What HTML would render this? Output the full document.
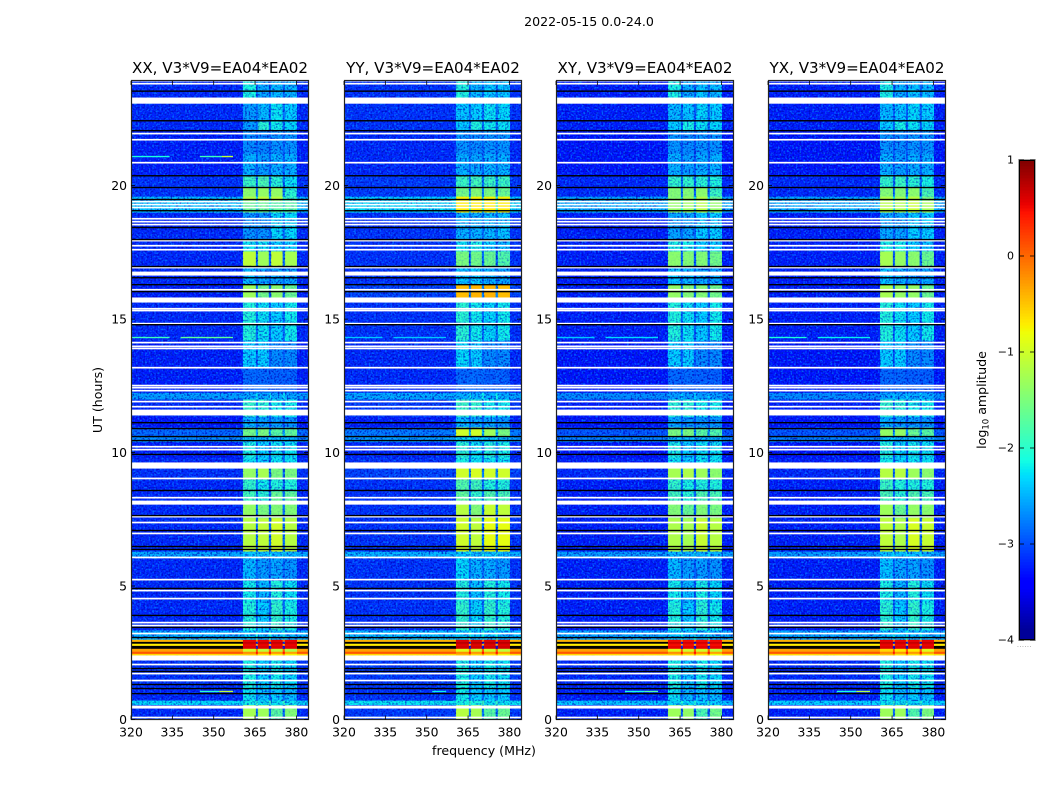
<!DOCTYPE html>
<html>
<head>
<meta charset="utf-8">
<title>2022-05-15 amplitude waterfall</title>
<style>
html,body{margin:0;padding:0;background:#fff;width:1050px;height:800px;overflow:hidden}
svg{display:block}
text{font-family:"DejaVu Sans","Liberation Sans",sans-serif;fill:#000}
</style>
</head>
<body>
<svg id="figure" xmlns="http://www.w3.org/2000/svg" width="1050" height="800" viewBox="0 0 1050 800">
  <defs id="figure-defs">
    <filter id="speckle-light" x="0" y="0" width="1" height="1" color-interpolation-filters="sRGB">
      <feTurbulence type="fractalNoise" baseFrequency="0.55" numOctaves="1" seed="3"/>
      <feColorMatrix values="0 0 0 0 0  0 0 0 0 0.52  0 0 0 0 1  4 0 0 0 -1.9"/>
    </filter>
    <filter id="speckle-dark" x="0" y="0" width="1" height="1" color-interpolation-filters="sRGB">
      <feTurbulence type="fractalNoise" baseFrequency="0.55" numOctaves="1" seed="11"/>
      <feColorMatrix values="0 0 0 0 0  0 0 0 0 0  0 0 0 0 0.72  4 0 0 0 -1.9"/>
    </filter>
  </defs>
  <text x="589" y="26" font-size="12.6" text-anchor="middle">2022-05-15 0.0-24.0</text>
  <text x="484" y="755" font-size="12.6" text-anchor="middle">frequency (MHz)</text>
  <text x="102" y="400" font-size="12.6" text-anchor="middle" transform="rotate(-90 102 400)">UT (hours)</text>
  <text x="986" y="400" font-size="12.6" text-anchor="middle" transform="rotate(-90 986 400)">log<tspan font-size="8.5" dy="2.5">10</tspan><tspan dy="-2.5"> amplitude</tspan></text>
  <text x="1017" y="647" font-size="6" letter-spacing="0.6" style="fill:#777">......</text>
  <g id="panels"></g>
  <g id="colorbar"></g>
</svg>
<script>
/* Chart data */
const panelTitles = ["XX, V3*V9=EA04*EA02", "YY, V3*V9=EA04*EA02", "XY, V3*V9=EA04*EA02", "YX, V3*V9=EA04*EA02"];
const freqTicks = [320, 335, 350, 365, 380];
const utTicks = [0, 5, 10, 15, 20];
const colorTicks = [1, 0, -1, -2, -3, -4];
const colorTickLabels = ["1", "0", "\u22121", "\u22122", "\u22123", "\u22124"];

/* frequency channels (MHz) and which level column each one reads: 0 = out of band, 1-4 = subbands */
const freqEdges = [320, 360.6, 365.3, 366, 370, 370.8, 375, 375.8, 380.2, 384.2];
const channelBand = [0, 1, 0, 2, 0, 3, 0, 4, 0];
const channelLift = [0, 0, 0.35, 0, 0.35, 0, 0.35, 0, 0];

/* UT hour boundaries of the time rows */
const rowEdges = [0,.55,.72,1.2,2.4,2.47,2.55,2.66,2.77,2.85,2.92,3,3.35,4.4,5.2,6.05,6.3,7.55,8.1,8.55,9,9.45,9.8,10.4,10.6,10.95,11.35,12,12.25,13.2,14.2,15.8,16.3,17,17.55,18,19,19.45,19.6,19.95,20.4,21.2,22.05,22.4,23.2,23.9];

/* log10 amplitude per row: [out of band, band A, band B, band C, band D] */
const levelsXX = [
[-3.2,-1.25,-1.3,-1.7,-1.45],[-2.25,-2.15,-2.2,-2.2,-2.2],[-3.2,-2.2,-2.35,-2.3,-2.4],[-3.15,-2.1,-2.3,-2.15,-2.25],
[-0.6,-0.55,-0.7,-0.7,-0.75],[0.1,-0.2,-0.25,-0.25,-0.3],[-0.3,-1,-1.1,-1.1,-1.2],[-4,0.6,0.6,0.6,0.6],
[-0.7,0.55,0.55,0.55,0.55],[-4,0.7,0.7,0.7,0.7],[-0.4,0.55,0.55,0.55,0.55],
[-2.45,-2.3,-2.4,-2.4,-2.4],[-3.2,-2.05,-2.3,-1.95,-2.1],[-3.2,-2.15,-2.4,-2.05,-2.2],[-3.2,-2.4,-2.55,-2.5,-2.6],
[-2.5,-2.35,-2.4,-2.4,-2.4],[-3.2,-1.15,-1.1,-1,-1.15],[-3.2,-1.35,-1.5,-1.45,-1.45],[-3.2,-1.85,-2,-1.6,-1.65],
[-3.2,-1.95,-2.15,-2.05,-2.05],[-3.15,-1.35,-1.25,-1.5,-1.5],[-3.2,-2.2,-2.3,-2.2,-2.2],[-3.25,-2.1,-2.3,-2.2,-2.2],
[-2.65,-2.3,-2.4,-2.4,-2.4],[-2.85,-1.55,-1.5,-1.7,-1.65],[-3.3,-2.45,-2.55,-2.55,-2.6],[-3.2,-1.95,-2,-2.15,-2.15],
[-2.55,-2.5,-2.5,-2.5,-2.5],[-3.25,-2.85,-2.85,-2.9,-2.9],[-3.25,-2.3,-2.3,-2.65,-2.65],[-3.2,-2.05,-2.2,-2.3,-2.15],
[-3.25,-1.3,-1.55,-1.4,-1.6],[-3.2,-2.4,-2.5,-2.5,-2.5],[-3.2,-1.1,-1.3,-1.1,-1.25],[-3.2,-2.2,-2.2,-2.3,-2.3],
[-3.2,-2.6,-2.6,-2.25,-2.25],[-2.35,-1.6,-1.6,-1.7,-1.7],[-2.4,-1.2,-1.1,-1.15,-1.9],[-3.15,-1.4,-1.35,-1.35,-2],
[-3.15,-1.9,-1.8,-2,-2.2],[-3.25,-2.45,-2.55,-2.45,-2.45],[-3.25,-2.65,-2.7,-2.6,-2.6],[-3.2,-2.55,-2,-2.15,-2.25],
[-3.2,-2.55,-2.4,-2.2,-2.3],[-3.2,-2.1,-2.5,-2.4,-2.4]];
const levelsYY = [
[-3.1,-1.15,-1.25,-1.7,-1.6],[-2.2,-2.1,-2.1,-2.2,-2.2],[-3.15,-2.15,-2.3,-2.3,-2.3],[-3.1,-2.1,-2.3,-2.15,-2.2],
[-0.6,-0.45,-0.6,-0.65,-0.75],[0.1,-0.2,-0.25,-0.25,-0.3],[-0.3,-0.9,-1,-1,-1.1],[-4,0.65,0.65,0.65,0.65],
[-0.7,0.6,0.6,0.6,0.6],[-4,0.75,0.75,0.75,0.75],[-0.4,0.6,0.6,0.6,0.6],
[-2.4,-2.3,-2.35,-2.35,-2.4],[-3.15,-1.95,-2.25,-1.95,-2.05],[-3.15,-2.05,-2.35,-2.05,-2.15],[-3.15,-2.25,-2.45,-2.45,-2.55],
[-2.45,-2.3,-2.4,-2.35,-2.4],[-3.15,-1,-1.1,-0.85,-0.85],[-3.15,-1.15,-1.45,-1.05,-1.1],[-3.15,-1.65,-1.95,-1.75,-1.8],
[-3.15,-1.75,-1.85,-2.05,-2.05],[-3.05,-1,-0.95,-1,-1],[-3.15,-2.1,-2.2,-2.2,-2.2],[-3.2,-2,-2.2,-2.05,-2.1],
[-2.55,-2.25,-2.35,-2.35,-2.35],[-2.75,-1,-1,-1.3,-1.5],[-3.25,-2.4,-2.5,-2.5,-2.6],[-3.1,-1.9,-1.95,-2.15,-2.15],
[-2.5,-2.45,-2.45,-2.45,-2.45],[-3.2,-2.85,-2.85,-2.9,-2.9],[-3.2,-2.25,-2.3,-2.65,-2.65],[-3.15,-2,-2.15,-2.25,-2.15],
[-3.05,-0.45,-0.4,-0.4,-0.45],[-3.15,-2.35,-2.3,-2.45,-2.5],[-3.15,-1.5,-1.55,-1.6,-1.75],[-3.15,-2.2,-2.1,-2.3,-2.4],
[-3.15,-2.45,-2.45,-2.4,-2.35],[-2.25,-0.7,-0.7,-0.7,-0.7],[-2.3,-0.75,-0.75,-0.75,-0.75],[-3.1,-1.55,-1.45,-1.5,-1.6],
[-3.1,-1.9,-1.85,-1.9,-1.9],[-3.2,-2.45,-2.5,-2.45,-2.45],[-3.2,-2.6,-2.65,-2.6,-2.6],[-3.15,-2.3,-2.05,-2.15,-2.2],
[-3.15,-2.35,-2.3,-2.2,-2.25],[-3.15,-2.05,-2.4,-2.3,-2.35]];
const levelsXY = [
[-3.25,-1.3,-1.35,-1.8,-1.55],[-2.35,-2.25,-2.25,-2.3,-2.3],[-3.25,-2.2,-2.4,-2.35,-2.4],[-3.2,-2.1,-2.35,-2.15,-2.25],
[-0.6,-0.55,-0.7,-0.7,-0.8],[0.1,-0.2,-0.25,-0.25,-0.3],[-0.3,-0.9,-1,-1,-1.1],[-4,0.55,0.55,0.55,0.55],
[-0.7,0.5,0.5,0.5,0.5],[-4,0.65,0.65,0.65,0.65],[-0.4,0.5,0.5,0.5,0.5],
[-2.5,-2.35,-2.4,-2.4,-2.45],[-3.25,-2.05,-2.3,-2,-2.15],[-3.25,-2.15,-2.4,-2.1,-2.25],[-3.25,-2.4,-2.55,-2.55,-2.6],
[-2.55,-2.4,-2.45,-2.45,-2.45],[-3.25,-1.2,-1.25,-1.05,-1.15],[-3.25,-1.45,-1.6,-1.45,-1.5],[-3.25,-1.85,-2,-1.75,-1.8],
[-3.25,-1.95,-2.1,-2.05,-2.05],[-3.2,-1.25,-1.2,-1.3,-1.4],[-3.25,-2.2,-2.3,-2.2,-2.2],[-3.3,-2.1,-2.3,-2.2,-2.2],
[-2.7,-2.35,-2.4,-2.4,-2.4],[-2.95,-1.5,-1.5,-1.7,-1.75],[-3.3,-2.5,-2.6,-2.6,-2.6],[-3.25,-2,-2,-2.15,-2.15],
[-2.65,-2.55,-2.55,-2.55,-2.55],[-3.3,-2.85,-2.85,-2.9,-2.9],[-3.3,-2.3,-2.3,-2.65,-2.65],[-3.25,-2.05,-2.2,-2.3,-2.15],
[-3.25,-1.35,-1.45,-1.45,-1.55],[-3.25,-2.35,-2.4,-2.5,-2.5],[-3.25,-1.4,-1.45,-1.45,-1.55],[-3.25,-2.1,-2.15,-2.3,-2.3],
[-3.25,-2.5,-2.5,-2.3,-2.3],[-2.45,-1.35,-1.3,-1.15,-1.35],[-2.5,-1.45,-1.35,-1.2,-1.6],[-3.2,-1.45,-1.45,-1.4,-1.9],
[-3.2,-1.95,-1.95,-2,-2.05],[-3.3,-2.45,-2.55,-2.45,-2.45],[-3.3,-2.6,-2.65,-2.6,-2.6],[-3.25,-2.3,-2.1,-2.2,-2.25],
[-3.25,-2.4,-2.35,-2.25,-2.3],[-3.25,-2.1,-2.45,-2.35,-2.4]];
const levelsYX = [
[-3.25,-1.3,-1.3,-1.75,-1.5],[-2.3,-2.2,-2.2,-2.25,-2.25],[-3.25,-2.2,-2.35,-2.3,-2.35],[-3.2,-2.1,-2.3,-2.15,-2.2],
[-0.6,-0.5,-0.65,-0.65,-0.75],[0.1,-0.2,-0.25,-0.25,-0.3],[-0.3,-0.6,-0.7,-0.7,-0.9],[-4,0.6,0.6,0.6,0.6],
[-0.7,0.55,0.55,0.55,0.55],[-4,0.7,0.7,0.7,0.7],[-0.4,0.55,0.55,0.55,0.55],
[-2.5,-2.35,-2.4,-2.4,-2.4],[-3.25,-2,-2.3,-1.95,-2.1],[-3.25,-2.1,-2.4,-2.05,-2.2],[-3.25,-2.35,-2.5,-2.5,-2.6],
[-2.55,-2.35,-2.4,-2.4,-2.45],[-3.25,-1.1,-1.2,-0.95,-1.05],[-3.25,-1.3,-1.6,-1.35,-1.4],[-3.25,-1.8,-2,-1.75,-1.8],
[-3.25,-1.9,-2.05,-2.05,-2.05],[-3.2,-1.15,-1.15,-1.3,-1.4],[-3.25,-2.15,-2.25,-2.2,-2.2],[-3.3,-2.05,-2.25,-2.15,-2.2],
[-2.7,-2.3,-2.4,-2.4,-2.4],[-2.95,-1.35,-1.35,-1.6,-1.7],[-3.3,-2.45,-2.55,-2.55,-2.6],[-3.25,-1.95,-2,-2.15,-2.15],
[-2.65,-2.5,-2.5,-2.5,-2.5],[-3.3,-2.85,-2.85,-2.9,-2.9],[-3.3,-2.3,-2.3,-2.65,-2.65],[-3.25,-2.05,-2.2,-2.3,-2.15],
[-3.25,-1.25,-1.35,-1.35,-1.6],[-3.25,-2.35,-2.45,-2.5,-2.5],[-3.25,-1.25,-1.35,-1.4,-1.6],[-3.25,-2.1,-2.15,-2.3,-2.35],
[-3.25,-2.5,-2.5,-2.3,-2.3],[-2.45,-1.15,-1.2,-1.05,-1.25],[-2.5,-1.2,-1.25,-1.15,-1.5],[-3.2,-1.45,-1.45,-1.4,-1.8],
[-3.2,-1.95,-1.9,-2,-2.1],[-3.3,-2.45,-2.55,-2.45,-2.45],[-3.3,-2.6,-2.65,-2.6,-2.6],[-3.25,-2.3,-2.1,-2.2,-2.25],
[-3.25,-2.4,-2.35,-2.25,-2.3],[-3.25,-2.1,-2.45,-2.35,-2.4]];

/* narrow interference traces per panel: [UT hour, start MHz, end MHz, log10 amplitude] */
const rfiXX = [[21.09,320,334,-2.1],[21.09,345,353,-1.9],[21.09,353,357,-1.1],[14.31,320,334,-1.9],[14.31,338,357,-1.7],[1.05,345,352,-2],[1.05,352,357,-1.1]];
const rfiYY = [[14.31,320,334,-2.4],[14.31,338,357,-2.4],[1.05,352,357,-2.2]];
const rfiXY = [[14.31,320,334,-2.4],[14.31,338,357,-2.3],[1.05,345,352,-2.1],[1.05,352,357,-1.8]];
const rfiYX = [[14.31,320,334,-2.1],[14.31,338,357,-2.2],[1.05,345,352,-2.1],[1.05,352,357,-1.2]];

/* flagged time ranges drawn white: [start hour, end hour] */
const flagBands = [[.41,.52],[2.21,2.4],[8.05,8.2],[9.4,9.63],[11.39,11.61],[15.62,15.81],[16.63,16.78],[23.07,23.3]];
/* thin flagged time samples (UT hour) */
const flagLines = [.075,1.46,1.72,2.06,3.22,3.52,3.63,4.53,4.83,5.24,6.07,6.97,7.38,7.6,8.31,9.03,10.11,10.22,11.72,11.91,12.32,12.43,12.51,13.18,13.9,13.98,14.12,14.83,15.32,15.39,16.1,16.93,17.6,17.75,17.94,18.54,18.65,18.76,19.18,19.29,19.4,20.86,21.72,21.95,23.82];
/* zero-amplitude time samples drawn black (UT hour) */
const zeroLines = [.97,1.16,1.31,1.8,1.91,3.07,3.45,3.9,4.91,6.37,6.48,7.08,7.64,8.58,9.93,10.45,10.6,10.9,11.12,14.79,16.03,16.29,16.55,16.97,17.98,18.43,19.06,19.48,19.93,20.37,22.06,22.43,23.54];

const levelSets = [levelsXX, levelsYY, levelsXY, levelsYX];
const rfiSets = [rfiXX, rfiYY, rfiXY, rfiYX];

/* Layout */
const panelLefts = [131, 344, 556, 768];
const panelWidth = 177;
const plotTop = 81, plotBottom = 719.5;
const freqMin = 320, freqMax = 384.2;
const utMin = 0, utMax = 23.92;
const lineSpan = 0.052;
const SVGNS = "http://www.w3.org/2000/svg";

function axisY(hour){ return plotBottom - (hour - utMin) / (utMax - utMin) * (plotBottom - plotTop); }
function axisX(left, mhz){ return left + (mhz - freqMin) / (freqMax - freqMin) * panelWidth; }
function ramp(stops, x){
  for (let i = 1; i < stops.length; i++) {
    if (x <= stops[i][0]) {
      const a = stops[i-1], b = stops[i];
      return a[1] + (b[1]-a[1]) * (x-a[0]) / (b[0]-a[0]);
    }
  }
  return stops[stops.length-1][1];
}
const jetR = [[0,0],[.35,0],[.66,1],[.89,1],[1,.5]];
const jetG = [[0,0],[.125,0],[.375,1],[.64,1],[.91,0],[1,0]];
const jetB = [[0,.5],[.11,1],[.34,1],[.65,0],[1,0]];
function colorFor(value){
  if (value <= -3.9) return "#000";
  const x = Math.max(0, Math.min(1, (value + 4) / 5));
  const c = [jetR, jetG, jetB].map(s => Math.round(ramp(s, x) * 255));
  return "rgb(" + c.join(",") + ")";
}
function noiseStrength(value){
  if (value <= -3.9) return 0;
  return Math.max(0, Math.min(1, (-1.3 - value) / 1.2));
}
function make(parent, tag, attrs, text){
  const el = document.createElementNS(SVGNS, tag);
  for (const k in attrs) el.setAttribute(k, attrs[k]);
  if (text !== undefined) el.textContent = text;
  parent.appendChild(el);
  return el;
}

const panelsRoot = document.getElementById("panels");
const defsRoot = document.getElementById("figure-defs");
panelTitles.forEach(function(title, p){
  const left = panelLefts[p];
  const right = left + panelWidth;
  const levels = levelSets[p];
  const plotH = plotBottom - plotTop;
  const g = make(panelsRoot, "g", {});
  
  

  const noiseMask = make(defsRoot, "mask", {id:"noise-mask-"+p, maskUnits:"userSpaceOnUse", x:left, y:plotTop, width:panelWidth, height:plotH});

  /* heatmap cells */
  levels.forEach(function(row, r){
    const yTop = axisY(rowEdges[r+1]);
    const yBot = axisY(rowEdges[r]);
    channelBand.forEach(function(band, c){
      const x0 = axisX(left, freqEdges[c]);
      const x1 = axisX(left, freqEdges[c+1]);
      const value = row[band] + channelLift[c];
      const cell = make(g, "rect", {x:x0, y:yTop, width:x1-x0+0.3, height:yBot-yTop+0.3, fill:colorFor(value)});
      
      
      make(noiseMask, "rect", {x:x0, y:yTop, width:x1-x0+0.3, height:yBot-yTop+0.3, fill:"#fff", "fill-opacity":noiseStrength(value)});
    });
  });
  /* white background above the last row */
  const topGap = make(g, "rect", {x:left, y:plotTop, width:panelWidth, height:Math.max(0, axisY(rowEdges[rowEdges.length-1]) - plotTop), fill:"#fff"});
  
  

  /* receiver noise texture, strongest on faint cells */
  const noiseLight = make(g, "rect", {x:left, y:plotTop, width:panelWidth, height:plotH, filter:"url(#speckle-light)", mask:"url(#noise-mask-"+p+")", opacity:0.75});
  
  
  const noiseDark = make(g, "rect", {x:left, y:plotTop, width:panelWidth, height:plotH, filter:"url(#speckle-dark)", mask:"url(#noise-mask-"+p+")", opacity:0.75});
  
  

  /* interference traces */
  rfiSets[p].forEach(function(t){
    const x0 = axisX(left, t[1]);
    const x1 = axisX(left, t[2]);
    const trace = make(g, "rect", {x:x0, y:axisY(t[0]+lineSpan/2), width:x1-x0, height:(plotH/(utMax-utMin))*lineSpan, fill:colorFor(t[3])});
    
    
  });
  /* flagged data */
  flagBands.forEach(function(b){
    const band = make(g, "rect", {x:left, y:axisY(b[1]), width:panelWidth, height:axisY(b[0])-axisY(b[1]), fill:"#fff"});
    
    
  });
  flagLines.forEach(function(h){
    const line = make(g, "rect", {x:left, y:axisY(h+lineSpan/2)-0.15, width:panelWidth, height:axisY(h-lineSpan/2)-axisY(h+lineSpan/2)+0.3, fill:"#fff"});
    
    
  });
  zeroLines.forEach(function(h){
    const line = make(g, "rect", {x:left, y:axisY(h+lineSpan/2), width:panelWidth, height:axisY(h-lineSpan/2)-axisY(h+lineSpan/2), fill:"#000"});
    
    
  });

  /* frame */
  const frame = make(g, "rect", {x:left+0.5, y:plotTop-0.5, width:panelWidth, height:plotH+0.5, fill:"none", stroke:"#222", "stroke-width":1.2});
  
  

  /* ticks */
  freqTicks.forEach(function(f){
    const x = axisX(left, f);
    const bottomTick = make(g, "line", {x1:x, x2:x, y1:plotBottom, y2:plotBottom-4, stroke:"#000", "stroke-width":0.8});
    
    
    const topTick = make(g, "line", {x1:x, x2:x, y1:plotTop, y2:plotTop+4, stroke:"#000", "stroke-width":0.8});
    
    
    const label = make(g, "text", {x:x, y:plotBottom+17, "font-size":12.4, "text-anchor":"middle"}, String(f));
    
    
  });
  utTicks.forEach(function(h){
    const y = axisY(h);
    const leftTick = make(g, "line", {x1:left, x2:left+4, y1:y, y2:y, stroke:"#000", "stroke-width":0.8});
    
    
    const rightTick = make(g, "line", {x1:right-4, x2:right, y1:y, y2:y, stroke:"#000", "stroke-width":0.8});
    
    
    const label = make(g, "text", {x:left-4, y:y+4.5, "font-size":12.4, "text-anchor":"end"}, String(h));
    
    
  });

  /* title */
  const heading = make(g, "text", {x:left+panelWidth/2+0.5, y:73, "font-size":15.1, "text-anchor":"middle"}, title);
  
  
});

/* Colorbar */
const cbar = document.getElementById("colorbar");
const cbLeft = 1019, cbRight = 1035, cbTop = 160, cbBottom = 640;
const cbMin = -4, cbMax = 1;
function cbY(v){ return cbBottom - (v - cbMin) / (cbMax - cbMin) * (cbBottom - cbTop); }
const cbSteps = 160;
for (let i = 0; i < cbSteps; i++) {
  const lo = cbMin + (cbMax - cbMin) * i / cbSteps;
  const hi = cbMin + (cbMax - cbMin) * (i + 1) / cbSteps;
  const seg = make(cbar, "rect", {x:cbLeft, y:cbY(hi), width:cbRight-cbLeft, height:cbY(lo)-cbY(hi)+0.4, fill:colorFor(Math.max(-3.89,(lo+hi)/2))});
  
  
}
const cbInner = make(cbar, "rect", {x:cbLeft+0.5, y:cbTop+0.5, width:cbRight-cbLeft-1, height:cbBottom-cbTop-1, fill:"none", stroke:"#000", "stroke-width":1});


const cbOuter = make(cbar, "rect", {x:cbLeft-0.5, y:cbTop-0.5, width:cbRight-cbLeft+1, height:cbBottom-cbTop+1, fill:"none", stroke:"#aaa", "stroke-width":1});


colorTicks.forEach(function(v, i){
  const y = cbY(v);
  const tickL = make(cbar, "line", {x1:cbLeft, x2:cbLeft+5, y1:y, y2:y, stroke:"#000", "stroke-width":0.8});
  
  
  const tickR = make(cbar, "line", {x1:cbRight-5, x2:cbRight, y1:y, y2:y, stroke:"#000", "stroke-width":0.8});
  
  
  const label = make(cbar, "text", {x:cbLeft-5, y:y+3.5, "font-size":11, "text-anchor":"end"}, colorTickLabels[i]);
  
  
});
</script>
</body>
</html>
